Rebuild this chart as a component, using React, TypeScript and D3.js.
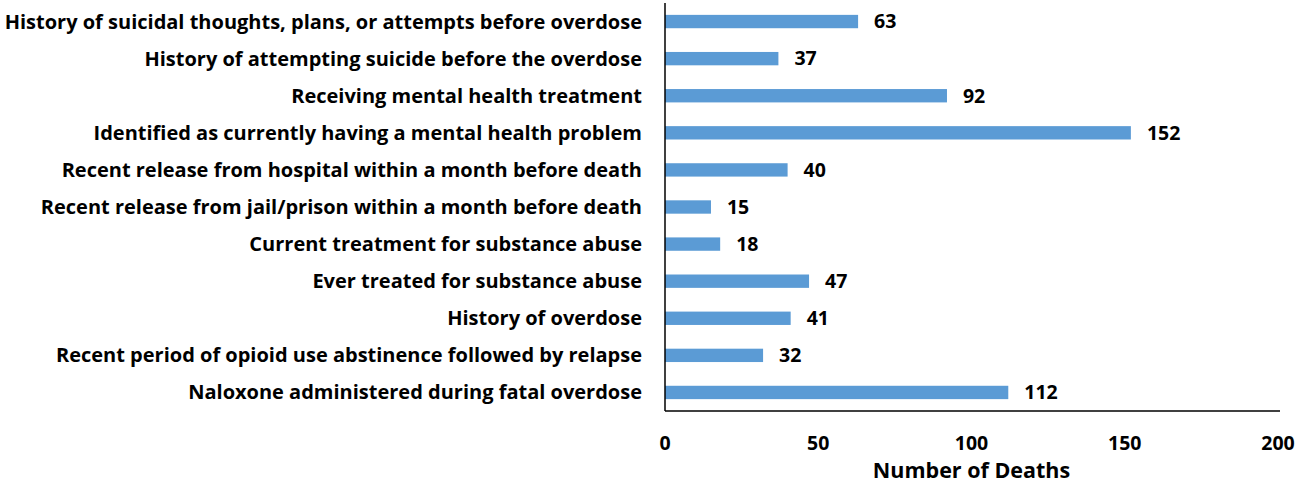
import * as d3 from "d3";

const categories = [
  "History of suicidal thoughts, plans, or attempts before overdose",
  "History of attempting suicide before the overdose",
  "Receiving mental health treatment",
  "Identified as currently having a mental health problem",
  "Recent release from hospital within a month before death",
  "Recent release from jail/prison within a month before death",
  "Current treatment for substance abuse",
  "Ever treated for substance abuse",
  "History of overdose",
  "Recent period of opioid use abstinence followed by relapse",
  "Naloxone administered during fatal overdose",
];
const deaths = [63, 37, 92, 152, 40, 15, 18, 47, 41, 32, 112];
const xTicks = [0, 50, 100, 150, 200];

export default function App() {
  const width = 1315;
  const height = 485;
  const left = 665;
  const right = 1278;
  const top = 3;
  const bottom = 411;
  const font = "'Open Sans', Lato, sans-serif";

  const x = d3.scaleLinear().domain([0, 200]).range([left, right]);
  const y = d3.scaleBand<string>().domain(categories).range([top, bottom]).paddingInner(0.64).paddingOuter(0.32);

  return (
    <svg width={width} height={height} style={{ position: "absolute", left: 0, top: 0 }}>
      <rect width={width} height={height} fill="#fff" />
      {categories.map((c, i) => (
        <g key={c}>
          <rect x={x(0)} y={y(c)!} width={x(deaths[i]) - x(0)} height={y.bandwidth()} fill="#5B9BD5" />
          <text x={642} y={y(c)! + y.bandwidth() / 2} dy="0.35em" textAnchor="end"
            fontFamily={font} fontWeight="bold" fontSize={20} fill="#000">{c}</text>
          <text x={x(deaths[i]) + 16} y={y(c)! + y.bandwidth() / 2} dy="0.35em"
            fontFamily={font} fontWeight="bold" fontSize={19.5} fill="#000">{deaths[i]}</text>
        </g>
      ))}
      <line x1={left} x2={left} y1={top} y2={bottom} stroke="#000" strokeWidth={1.5} />
      <line x1={left} x2={right + 2} y1={bottom} y2={bottom} stroke="#000" strokeWidth={1.5} />
      {xTicks.map((t) => (
        <text key={t} x={x(t)} y={443} dy="0.35em" textAnchor="middle"
          fontFamily={font} fontWeight="bold" fontSize={19.5} fill="#000">{t}</text>
      ))}
      <text x={(left + right) / 2} y={470} dy="0.35em" textAnchor="middle"
        fontFamily={font} fontWeight="bold" fontSize={21.5} fill="#000">Number of Deaths</text>
    </svg>
  );
}
